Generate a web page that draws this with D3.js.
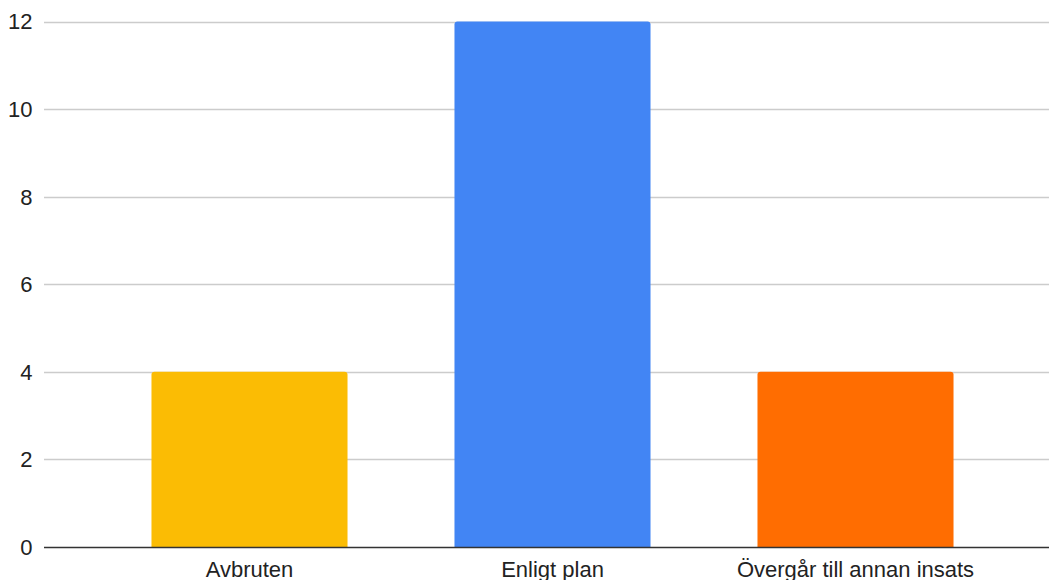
<!DOCTYPE html>
<html>
<head>
<meta charset="utf-8">
<script src="https://cdn.jsdelivr.net/npm/d3@7"></script>
<style>
  html, body { margin: 0; padding: 0; background: #fff; }
  svg { display: block; }
  text { font-family: "Liberation Sans", Arial, sans-serif; fill: #222; }
</style>
</head>
<body>
<svg id="chart" width="1049" height="580"></svg>
<script>
// Status counts per outcome
const categories = ["Avbruten", "Enligt plan", "Övergår till annan insats"];
const values = [4, 12, 4];
const colors = ["#FBBC04", "#4285F4", "#FF6D01"];
const yTicks = [0, 2, 4, 6, 8, 10, 12];

const W = 1049, H = 580;
const gridLeft = 44, gridRight = 1049;
const svg = d3.select("#chart");

const x = d3.scaleBand()
  .domain(categories)
  .range([98, 1007])
  .paddingInner(0.353)
  .paddingOuter(0.1765);

const y = d3.scaleLinear()
  .domain([0, 12])
  .range([547, 21.5]);

// Horizontal gridlines
svg.append("g")
  .selectAll("line")
  .data(yTicks.filter(d => d !== 0))
  .join("line")
  .attr("x1", gridLeft)
  .attr("x2", gridRight)
  .attr("y1", d => Math.round(y(d)) + 0.5)
  .attr("y2", d => Math.round(y(d)) + 0.5)
  .attr("stroke", "#cccccc")
  .attr("stroke-width", 1.5);

// Y axis tick labels
svg.append("g")
  .selectAll("text")
  .data(yTicks)
  .join("text")
  .attr("x", 32.5)
  .attr("y", d => y(d))
  .attr("dy", "0.36em")
  .attr("text-anchor", "end")
  .style("font-size", "22px")
  .text(d => d);

// Bars with slightly rounded tops
function barPath(x0, w, yTop, yBase, r) {
  return `M${x0},${yBase} L${x0},${yTop + r} Q${x0},${yTop} ${x0 + r},${yTop} ` +
         `L${x0 + w - r},${yTop} Q${x0 + w},${yTop} ${x0 + w},${yTop + r} L${x0 + w},${yBase} Z`;
}

svg.append("g")
  .selectAll("path")
  .data(categories)
  .join("path")
  .attr("d", (c, i) => barPath(x(c), x.bandwidth(), y(values[i]), y(0), 3))
  .attr("fill", (c, i) => colors[i]);

// Baseline
svg.append("line")
  .attr("x1", gridLeft)
  .attr("x2", gridRight)
  .attr("y1", y(0) + 0.5)
  .attr("y2", y(0) + 0.5)
  .attr("stroke", "#333333")
  .attr("stroke-width", 1.5);

// Category labels
svg.append("g")
  .selectAll("text")
  .data(categories)
  .join("text")
  .attr("x", c => x(c) + x.bandwidth() / 2)
  .attr("y", 577)
  .attr("text-anchor", "middle")
  .style("font-size", "22px")
  .text(c => c);
</script>
</body>
</html>
